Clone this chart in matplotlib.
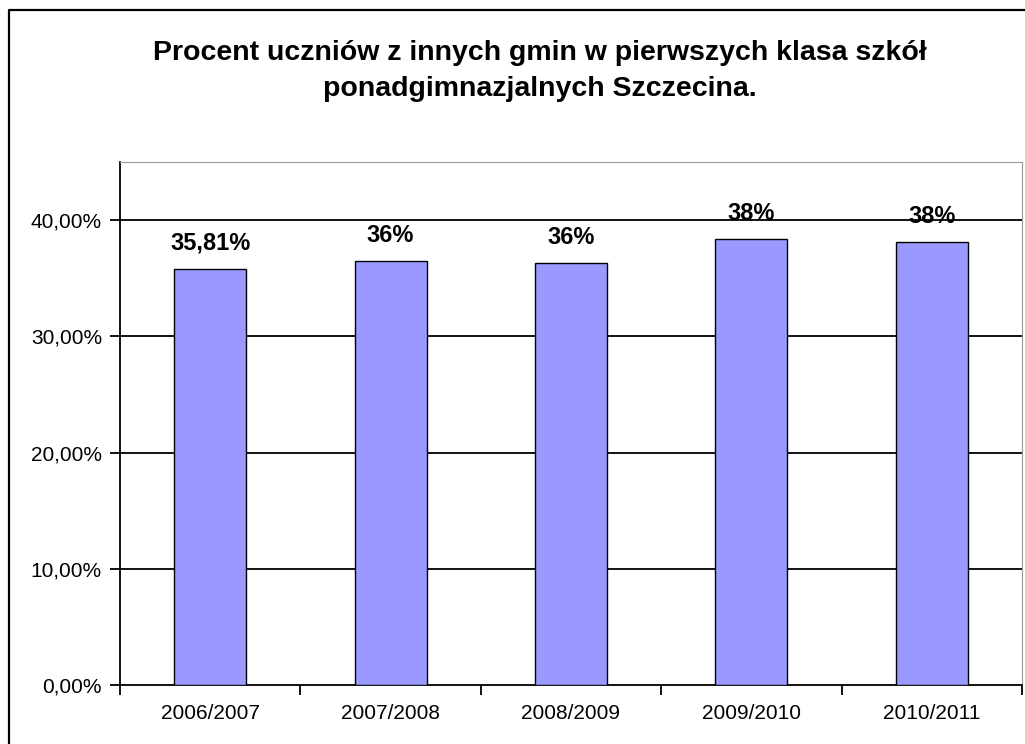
import matplotlib.pyplot as plt
import numpy as np
from matplotlib.lines import Line2D

plt.rcParams['font.family'] = ['Liberation Sans', 'DejaVu Sans']

# Data
years = ["2006/2007", "2007/2008", "2008/2009", "2009/2010", "2010/2011"]
values = [35.81, 36.45, 36.3, 38.35, 38.1]
labels = ["35,81%", "36%", "36%", "38%", "38%"]
yticks = [0, 10, 20, 30, 40]

fig = plt.figure(figsize=(10.25, 7.44), dpi=100)
ax = fig.add_axes([120 / 1025, 1 - 685 / 744, 902 / 1025, (685 - 162) / 744])

x = np.arange(len(years))
ax.bar(x, values, width=0.4, color="#9999FF", edgecolor="black", linewidth=1, zorder=3)

for xi, v, lab in zip(x, values, labels):
    ax.annotate(lab, (xi, v), xytext=(0, 10), textcoords="offset points",
                ha="center", va="bottom", fontsize=17, fontweight="bold", zorder=4)

ax.set_xlim(-0.5, len(years) - 0.5)
ax.set_ylim(0, 45)
ax.set_yticks(yticks)
ax.set_yticklabels([f"{t},00%" for t in yticks], fontsize=15)
for t in yticks[1:]:
    ax.axhline(t, color="black", linewidth=1.3, zorder=1)

ax.set_xticks(np.arange(len(years) + 1) - 0.5)
ax.set_xticklabels([])
ax.set_xticks(x, minor=True)
ax.set_xticklabels(years, minor=True, fontsize=15)
ax.tick_params(axis="x", which="minor", length=0, pad=14)
ax.tick_params(axis="x", which="major", length=7, width=1.3, direction="out")
ax.tick_params(axis="y", length=7, width=1.3, direction="out", pad=6)

for s in ["top", "right"]:
    ax.spines[s].set_color("#999999")
for s in ["left", "bottom"]:
    ax.spines[s].set_linewidth(1.3)

fig.text(540 / 1025, 1 - 71 / 744,
         "Procent uczniów z innych gmin w pierwszych klasa szkół\nponadgimnazjalnych Szczecina.",
         ha="center", va="center", fontsize=20.5, fontweight="bold", linespacing=1.5)

# outer chart frame (only left and top edges are inside the picture)
fig.lines.append(Line2D([9 / 1025, 9 / 1025, 1.0], [0.0, 1 - 10 / 744, 1 - 10 / 744],
                        transform=fig.transFigure, color="black", linewidth=1.6))

fig.savefig("out.png", dpi=100)
